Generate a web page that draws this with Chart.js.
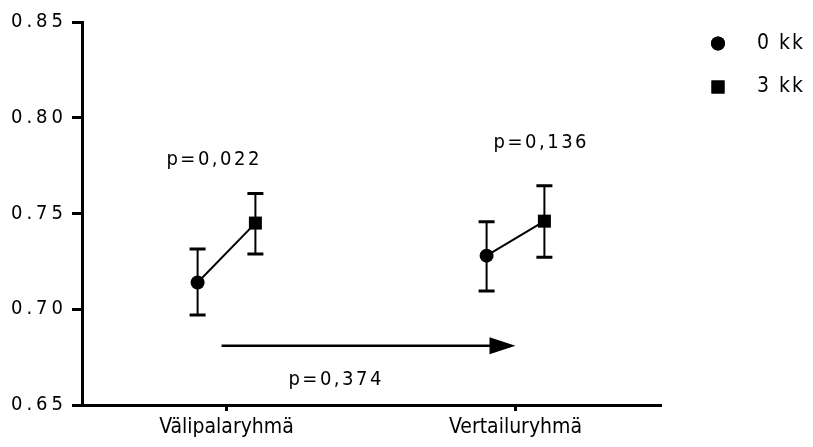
<!DOCTYPE html>
<html><head><meta charset="utf-8">
<script src="https://cdn.jsdelivr.net/npm/chart.js@4/dist/chart.umd.min.js"></script>
<style>html,body{margin:0;padding:0;background:#fff;}#wrap{width:813px;height:447px;}</style>
</head><body><div id="wrap"><canvas id="c" width="813" height="447"></canvas></div>
<script>
// ---- data ----
const groups = ['Välipalaryhmä', 'Vertailuryhmä'];
const seriesNames = ['0 kk', '3 kk'];
const mean0kk = [0.714, 0.728];
const low0kk = [0.697, 0.7095];
const high0kk = [0.7314, 0.7457];
const mean3kk = [0.745, 0.746];
const low3kk = [0.7288, 0.7271];
const high3kk = [0.7605, 0.7645];
const yTicks = [0.65, 0.70, 0.75, 0.80, 0.85];
const pWithin = ['p=0,022', 'p=0,136'];
const pBetween = 'p=0,374';

// ---- layout / style ----
const FF = "'Liberation Sans Narrow', 'Arial Narrow', 'DejaVu Sans Condensed', sans-serif";
const OFF = 0.1;                 // offset of the two time points around a group
const withinLabelPos = [{dx: -0.047, y: 0.7781}, {dx: 0.085, y: 0.787}];
const betweenLabelPos = {x: 1.375, y: 0.663};
const arrowSpec = {x0: 0.983, x1: 2.0, y: 0.681};

const grpX = i => i + 1;
const ds0 = {
  label: seriesNames[0], data: mean0kk.map((v, i) => ({x: grpX(i) - OFF, y: v})),
  errLow: low0kk, errHigh: high0kk,
  pointStyle: 'circle', pointRadius: 7, pointHoverRadius: 7,
  backgroundColor: '#000', borderColor: '#000', borderWidth: 0, showLine: false, order: 1
};
const ds3 = {
  label: seriesNames[1], data: mean3kk.map((v, i) => ({x: grpX(i) + OFF, y: v})),
  errLow: low3kk, errHigh: high3kk,
  pointStyle: 'rect', pointRadius: 9.2, pointHoverRadius: 9.2,
  backgroundColor: '#000', borderColor: '#000', borderWidth: 0, showLine: false, order: 1
};
const connectors = groups.map((g, i) => ({
  label: 'conn' + i, type: 'line',
  data: [{x: grpX(i) - OFF, y: mean0kk[i]}, {x: grpX(i) + OFF, y: mean3kk[i]}],
  borderColor: '#000', borderWidth: 2, pointRadius: 0, showLine: true, fill: false, order: 2
}));

const overlay = {
  id: 'overlay',
  beforeDraw(chart) {
    const s = chart.scales.y;
    if (!s._lsWrapped) {
      const orig = s.drawLabels;
      s.drawLabels = function (a) { const c = this.ctx; c.save(); c.letterSpacing = '4px'; orig.call(this, a); c.restore(); };
      s._lsWrapped = true;
    }
  },
  beforeDatasetsDraw(chart) {
    const {ctx, scales: {x, y}} = chart;
    ctx.save();
    ctx.strokeStyle = '#000';
    [ds0, ds3].forEach((ds) => {
      ds.data.forEach((p, i) => {
        const px = x.getPixelForValue(p.x);
        const yl = y.getPixelForValue(ds.errLow[i]);
        const yh = y.getPixelForValue(ds.errHigh[i]);
        ctx.lineWidth = 2;
        ctx.beginPath(); ctx.moveTo(px, yl); ctx.lineTo(px, yh); ctx.stroke();
        ctx.lineWidth = 3;
        ctx.beginPath();
        ctx.moveTo(px - 8, yl); ctx.lineTo(px + 8, yl);
        ctx.moveTo(px - 8, yh); ctx.lineTo(px + 8, yh);
        ctx.stroke();
      });
    });
    ctx.restore();
  },
  afterDraw(chart) {
    const {ctx, scales: {x, y}} = chart;
    ctx.save();
    // arrow between groups
    const ax0 = x.getPixelForValue(arrowSpec.x0), ax1 = x.getPixelForValue(arrowSpec.x1);
    const ay = y.getPixelForValue(arrowSpec.y);
    ctx.strokeStyle = '#000'; ctx.fillStyle = '#000'; ctx.lineWidth = 2.5;
    ctx.beginPath(); ctx.moveTo(ax0, ay); ctx.lineTo(ax1 - 24, ay); ctx.stroke();
    ctx.beginPath(); ctx.moveTo(ax1, ay); ctx.lineTo(ax1 - 26, ay - 8.5); ctx.lineTo(ax1 - 26, ay + 8.5); ctx.closePath(); ctx.fill();
    // p-value texts
    ctx.font = '20px ' + FF;
    ctx.letterSpacing = '2.5px';
    ctx.textAlign = 'center'; ctx.textBaseline = 'middle';
    pWithin.forEach((t, i) => {
      ctx.fillText(t, x.getPixelForValue(grpX(i) + withinLabelPos[i].dx) + 1.25, y.getPixelForValue(withinLabelPos[i].y));
    });
    ctx.fillText(pBetween, x.getPixelForValue(betweenLabelPos.x) + 1.25, y.getPixelForValue(betweenLabelPos.y));
    // legend
    const H = Chart.helpers;
    ctx.font = '21px ' + FF;
    ctx.letterSpacing = '2px';
    ctx.textAlign = 'left';
    [ds0, ds3].forEach((ds, i) => {
      const ly = 43.5 + i * 43.5;
      ctx.fillStyle = '#000';
      H.drawPoint(ctx, {pointStyle: ds.pointStyle, radius: ds.pointRadius, rotation: 0, borderWidth: 0}, 718, ly);
      ctx.fill();
      ctx.fillText(ds.label, 757, ly);
    });
    ctx.restore();
  }
};

new Chart(document.getElementById('c'), {
  type: 'scatter',
  data: {datasets: [ds0, ds3, ...connectors]},
  options: {
    responsive: false, animation: false, devicePixelRatio: 1,
    layout: {padding: {top: 22, right: 153, bottom: 0, left: 0}},
    plugins: {legend: {display: false}, tooltip: {enabled: false}},
    scales: {
      x: {
        type: 'linear', min: 0.5, max: 2.5,
        afterBuildTicks: s => { s.ticks = groups.map((g, i) => ({value: grpX(i)})); },
        afterFit: s => { s.height = 42; s.paddingLeft = 0; s.paddingRight = 0; },
        ticks: {callback: v => groups[Math.round(v) - 1], font: {family: FF, size: 21}, color: '#000', padding: 4, maxRotation: 0, autoSkip: false},
        grid: {display: true, drawOnChartArea: false, drawTicks: true, tickLength: 6, lineWidth: 3, color: '#000'},
        border: {display: true, color: '#000', width: 3}
      },
      y: {
        type: 'linear', min: 0.65, max: 0.85,
        afterBuildTicks: s => { s.ticks = yTicks.map(v => ({value: v})); },
        afterFit: s => { s.width = 82; s.paddingTop = 0; s.paddingBottom = 0; },
        ticks: {callback: v => v.toFixed(2), font: {family: FF, size: 20}, color: '#000', padding: 5},
        grid: {display: true, drawOnChartArea: false, drawTicks: true, tickLength: 10, lineWidth: 3, color: '#000'},
        border: {display: true, color: '#000', width: 3}
      }
    }
  },
  plugins: [overlay]
});
</script>
</body></html>
